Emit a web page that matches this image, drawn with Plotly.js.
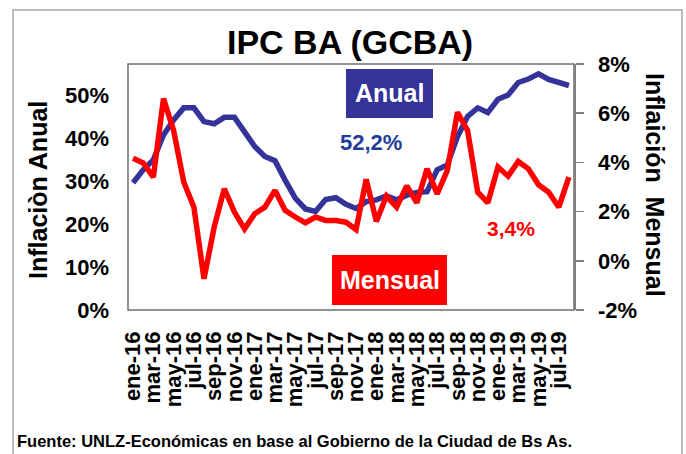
<!DOCTYPE html>
<html>
<head>
<meta charset="utf-8">
<script src="https://cdn.plot.ly/plotly-3.0.1.min.js"></script>
<style>html,body{margin:0;padding:0;background:#fff;}#chart{width:686px;height:454px;}</style>
</head>
<body>
<div id="chart"></div>
<script>
// Months ene-16 .. ago-19
const months = [
  "ene-16","feb-16","mar-16","abr-16","may-16","jun-16","jul-16","ago-16","sep-16","oct-16","nov-16","dic-16",
  "ene-17","feb-17","mar-17","abr-17","may-17","jun-17","jul-17","ago-17","sep-17","oct-17","nov-17","dic-17",
  "ene-18","feb-18","mar-18","abr-18","may-18","jun-18","jul-18","ago-18","sep-18","oct-18","nov-18","dic-18",
  "ene-19","feb-19","mar-19","abr-19","may-19","jun-19","jul-19","ago-19"
];
// Annual inflation (%) - left axis
const anual = [
  29.6, 32.6, 34.9, 40.7, 44.2, 47.0, 47.0, 43.8, 43.3, 44.8, 44.8, 41.5,
  38.0, 35.7, 34.7, 30.2, 26.0, 23.5, 22.9, 25.7, 26.1, 24.6, 23.6, 25.2,
  25.6, 26.5, 25.6, 26.7, 27.3, 27.5, 32.6, 33.7, 40.3, 45.0, 47.0, 45.9,
  49.0, 50.0, 52.9, 53.7, 54.9, 53.6, 52.9, 52.2
];
// Monthly inflation (%) - right axis
const mensual = [
  4.17, 3.98, 3.40, 6.59, 5.30, 3.20, 2.18, -0.73, 1.37, 2.93, 1.98, 1.30,
  1.91, 2.18, 2.86, 2.05, 1.78, 1.54, 1.78, 1.64, 1.64, 1.57, 1.27, 3.31,
  1.60, 2.63, 2.18, 3.04, 2.36, 3.74, 2.72, 3.67, 6.04, 5.30, 2.79, 2.36,
  3.81, 3.44, 4.04, 3.74, 3.09, 2.79, 2.18, 3.40
];
const tickMonths = months.filter((m, i) => i % 2 === 0);
const leftTicks = [0, 10, 20, 30, 40, 50];
const rightTicks = [-2, 0, 2, 4, 6, 8];

const traces = [
  {
    x: months, y: anual.map(v => v / 100), type: 'scatter', mode: 'lines',
    line: {color: '#333399', width: 5.5}, yaxis: 'y', hoverinfo: 'skip', name: 'Anual'
  },
  {
    x: months, y: mensual.map(v => v / 100), type: 'scatter', mode: 'lines',
    line: {color: '#FF0000', width: 5.5}, yaxis: 'y2', hoverinfo: 'skip', name: 'Mensual'
  }
];

const tickFont = {family: 'Liberation Sans, Arial, sans-serif', size: 22, color: '#000', weight: 'bold'};
const px2x = p => (p - 128) / 446;
const px2y = p => (310 - p) / 246;

const layout = {
  width: 686, height: 454,
  margin: {l: 128, r: 112, t: 64, b: 144},
  paper_bgcolor: '#fff', plot_bgcolor: '#fff',
  showlegend: false,
  xaxis: {
    type: 'category', categoryorder: 'array', categoryarray: months,
    range: [-0.5, months.length - 0.5],
    tickmode: 'array', tickvals: tickMonths, ticktext: tickMonths,
    tickangle: -90, ticks: '', showgrid: false, zeroline: false, showline: false,
    tickfont: {family: 'Liberation Sans, Arial, sans-serif', size: 22, color: '#000', weight: 'bold'},
    ticklabelstandoff: 16
  },
  yaxis: {
    range: [0, 0.572], tickmode: 'array', tickvals: leftTicks.map(v => v / 100),
    ticktext: leftTicks.map(v => v + '%'),
    showgrid: false, zeroline: false, showline: false, ticks: '',
    tickfont: tickFont, ticklabelstandoff: 18
  },
  yaxis2: {
    overlaying: 'y', side: 'right',
    range: [-0.02, 0.08], tickmode: 'array', tickvals: rightTicks.map(v => v / 100),
    ticktext: rightTicks.map(v => v + '%'),
    showgrid: false, zeroline: false, showline: true, linecolor: '#808080', linewidth: 1.5,
    ticks: 'outside', ticklen: 8, tickcolor: '#808080', tickwidth: 1.5,
    tickfont: tickFont, ticklabelstandoff: 10
  },
  shapes: [
    // outer chart border
    {type: 'rect', xref: 'paper', yref: 'paper', x0: px2x(13), x1: px2x(682), y0: px2y(470), y1: px2y(10),
     line: {color: '#A6A6A6', width: 1.5}, fillcolor: 'rgba(0,0,0,0)', layer: 'below'},
    // plot area border
    {type: 'rect', xref: 'paper', yref: 'paper', x0: 0, x1: 1, y0: 0, y1: 1,
     line: {color: '#707070', width: 1.5}, fillcolor: 'rgba(0,0,0,0)', layer: 'below'},
    // Anual box
    {type: 'rect', xref: 'paper', yref: 'paper', x0: px2x(346), x1: px2x(433), y0: px2y(118), y1: px2y(69),
     line: {width: 0}, fillcolor: '#333399', layer: 'above'},
    // Mensual box
    {type: 'rect', xref: 'paper', yref: 'paper', x0: px2x(332), x1: px2x(447), y0: px2y(305), y1: px2y(255),
     line: {width: 0}, fillcolor: '#FF0000', layer: 'above'}
  ],
  annotations: [
    {text: 'IPC BA (GCBA)', xref: 'paper', yref: 'paper', x: px2x(350), y: px2y(42), showarrow: false,
     xanchor: 'center', yanchor: 'middle',
     font: {family: 'Liberation Sans, Arial, sans-serif', size: 34, color: '#000', weight: 'bold'}},
    {text: 'Anual', xref: 'paper', yref: 'paper', x: px2x(389.5), y: px2y(93.5), showarrow: false,
     xanchor: 'center', yanchor: 'middle',
     font: {family: 'Liberation Sans, Arial, sans-serif', size: 25, color: '#fff', weight: 'bold'}},
    {text: 'Mensual', xref: 'paper', yref: 'paper', x: px2x(389.5), y: px2y(280), showarrow: false,
     xanchor: 'center', yanchor: 'middle',
     font: {family: 'Liberation Sans, Arial, sans-serif', size: 25, color: '#fff', weight: 'bold'}},
    {text: '52,2%', xref: 'paper', yref: 'paper', x: px2x(371), y: px2y(142), showarrow: false,
     xanchor: 'center', yanchor: 'middle',
     font: {family: 'Liberation Sans, Arial, sans-serif', size: 22, color: '#1F3C99', weight: 'bold'}},
    {text: '3,4%', xref: 'paper', yref: 'paper', x: px2x(511), y: px2y(228), showarrow: false,
     xanchor: 'center', yanchor: 'middle',
     font: {family: 'Liberation Sans, Arial, sans-serif', size: 21, color: '#FF0000', weight: 'bold'}},
    {text: 'Inflaciòn Anual', xref: 'paper', yref: 'paper', x: px2x(38), y: px2y(190), showarrow: false,
     xanchor: 'center', yanchor: 'middle', textangle: -90,
     font: {family: 'Liberation Sans, Arial, sans-serif', size: 25, color: '#000', weight: 'bold'}},
    {text: 'Inflaición\u00a0\u00a0Mensual', xref: 'paper', yref: 'paper', x: px2x(655), y: px2y(185), showarrow: false,
     xanchor: 'center', yanchor: 'middle', textangle: 90,
     font: {family: 'Liberation Sans, Arial, sans-serif', size: 25, color: '#000', weight: 'bold'}},
    {text: 'Fuente: UNLZ-Económicas en base al Gobierno de la Ciudad de Bs As.', xref: 'paper', yref: 'paper',
     x: px2x(15), y: px2y(441), showarrow: false, xanchor: 'left', yanchor: 'middle',
     font: {family: 'Liberation Sans, Arial, sans-serif', size: 16.5, color: '#000', weight: 'bold'}}
  ]
};

Plotly.newPlot('chart', traces, layout, {staticPlot: true, displayModeBar: false});
</script>
</body>
</html>
